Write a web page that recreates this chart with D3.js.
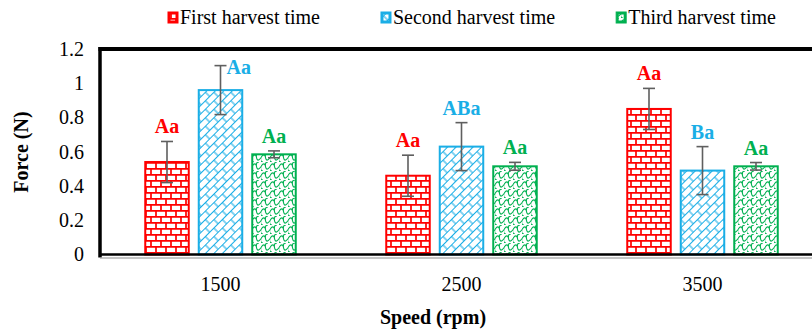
<!DOCTYPE html>
<html>
<head>
<meta charset="utf-8">
<script src="https://cdn.jsdelivr.net/npm/d3@7"></script>
<style>
  body { margin: 0; background: #fff; }
  svg { display: block; }
  svg text { font-family: "Liberation Serif", "Times New Roman", serif; }
</style>
</head>
<body>
<svg id="chart" width="812" height="329"></svg>
<script>
// data
var speeds = ["1500", "2500", "3500"];
var seriesNames = ["First harvest time", "Second harvest time", "Third harvest time"];
var firstHarvest = [0.54, 0.46, 0.85];
var secondHarvest = [0.96, 0.63, 0.49];
var thirdHarvest = [0.585, 0.515, 0.515];
var firstErr = [0.12, 0.12, 0.12];
var secondErr = [0.143, 0.14, 0.14];
var thirdErr = [0.02, 0.023, 0.022];
var firstLetters = ["Aa", "Aa", "Aa"];
var secondLetters = ["Aa", "ABa", "Ba"];
var thirdLetters = ["Aa", "Aa", "Aa"];
var yTicks = [0, 0.2, 0.4, 0.6, 0.8, 1, 1.2];

var colors = ["#ff0000", "#1aaee6", "#00b050"];
var patIds = ["pat-brick", "pat-diag", "pat-shingle"];
var serif = "Liberation Serif";

var values = [firstHarvest, secondHarvest, thirdHarvest];
var errs = [firstErr, secondErr, thirdErr];
var letters = [firstLetters, secondLetters, thirdLetters];

// flatten into bar records
var bars = [];
seriesNames.forEach(function(s, si) {
    speeds.forEach(function(sp, ci) {
        bars.push({ series: s, si: si, speed: sp, v: values[si][ci], e: errs[si][ci], label: letters[si][ci] });
    });
});

var svg = d3.select("#chart").attr("font-family", serif);
var plotLeft = 100, plotRight = 823, plotTop = 49, plotBottom = 254.5;

var x0 = d3.scaleBand().domain(speeds).range([plotLeft, plotRight]).padding(0);
var x1 = d3.scaleBand().domain(seriesNames).range([0, 150.5]).paddingInner(0.187).paddingOuter(0);
var groupOff = (x0.bandwidth() - 150.5) / 2;
var y = d3.scaleLinear().domain([0, 1.2]).range([plotBottom, plotTop]);

// patterns
var defs = svg.append("defs");

var brick = defs.append("pattern").attr("id", patIds[0])
    .attr("patternUnits", "userSpaceOnUse").attr("width", 10).attr("height", 12);
brick.append("rect").attr("width", 10).attr("height", 12).attr("fill", "#fff");
brick.append("path")
    .attr("d", "M0,0.8H10 M0,6.8H10 M1,0.8V6.8 M6,6.8V12.8")
    .attr("stroke", colors[0]).attr("stroke-width", 1.7).attr("fill", "none");

var diag = defs.append("pattern").attr("id", patIds[1])
    .attr("patternUnits", "userSpaceOnUse").attr("width", 12).attr("height", 12)
    .attr("patternTransform", "rotate(-45)");
diag.append("rect").attr("width", 12).attr("height", 12).attr("fill", "#fff");
diag.append("path")
    .attr("d", "M0,0.5H12 M0,6.5H12 M2,0.5V6.5 M8,6.5V12.5")
    .attr("stroke", colors[1]).attr("stroke-width", 1.1).attr("fill", "none");

var shingle = defs.append("pattern").attr("id", patIds[2])
    .attr("patternUnits", "userSpaceOnUse").attr("width", 9).attr("height", 9);
shingle.append("rect").attr("width", 9).attr("height", 9).attr("fill", "#fff");
shingle.append("path")
    .attr("d", "M0,4.5 C2,1 4,1 4.5,4.5 C5,8 7,8 9,4.5 M0,4.5 C-1,7 0,9 2,9 M4.5,4.5 C4,1 5,0 7,0")
    .attr("stroke", colors[2]).attr("stroke-width", 1.1).attr("fill", "none");

// plot frame: thick top and left border
svg.append("line").attr("x1", plotLeft - 1.5).attr("x2", 830).attr("y1", plotTop).attr("y2", plotTop)
    .attr("stroke", "#000").attr("stroke-width", 4);
svg.append("line").attr("x1", plotLeft).attr("x2", plotLeft).attr("y1", plotTop - 2).attr("y2", plotBottom + 3)
    .attr("stroke", "#000").attr("stroke-width", 3.5);

// y axis labels
var yAxis = d3.axisLeft(y).tickValues(yTicks).tickSize(0).tickPadding(16)
    .tickFormat(function(d) { return d3.format("~g")(d); });
var ya = svg.append("g").attr("transform", "translate(" + plotLeft + ",0)").call(yAxis)
    .attr("font-family", serif).attr("font-size", 20);
ya.select(".domain").remove();
ya.selectAll("text").attr("fill", "#000");

// bars
var gBars = svg.append("g");
gBars.selectAll("rect").data(bars).enter().append("rect")
    .attr("x", function(d) { return x0(d.speed) + groupOff + x1(d.series); })
    .attr("y", function(d) { return y(d.v); })
    .attr("width", x1.bandwidth())
    .attr("height", function(d) { return y(0) - y(d.v); })
    .attr("fill", function(d) { return "url(#" + patIds[d.si] + ")"; })
    .attr("stroke", function(d) { return colors[d.si]; })
    .attr("stroke-width", 2);

// x axis line (black, with thin grey line under it)
svg.append("line").attr("x1", plotLeft).attr("x2", 830).attr("y1", plotBottom).attr("y2", plotBottom)
    .attr("stroke", "#000").attr("stroke-width", 2.5);
svg.append("line").attr("x1", plotLeft).attr("x2", 830).attr("y1", plotBottom + 3.5).attr("y2", plotBottom + 3.5)
    .attr("stroke", "#8c8c8c").attr("stroke-width", 1);

// error bars
function cx(d) { return x0(d.speed) + groupOff + x1(d.series) + x1.bandwidth() / 2; }
var gErr = svg.append("g").attr("stroke", "#5f5f5f").attr("stroke-width", 1.6);
bars.forEach(function(d) {
    var c = cx(d), t = y(d.v + d.e), b = y(d.v - d.e);
    gErr.append("line").attr("x1", c).attr("x2", c).attr("y1", t).attr("y2", b);
    gErr.append("line").attr("x1", c - 6).attr("x2", c + 6).attr("y1", t).attr("y2", t);
    gErr.append("line").attr("x1", c - 6).attr("x2", c + 6).attr("y1", b).attr("y2", b);
});

// letter labels
svg.append("g").selectAll("text").data(bars).enter().append("text")
    .attr("font-family", serif).attr("font-size", 20).attr("font-weight", "bold")
    .attr("fill", function(d) { return colors[d.si]; })
    .each(function(d) {
        var t = y(d.v + d.e);
        var el = d3.select(this).text(d.label);
        if (t - 8 - 14 < plotTop + 4) {
            // no room above: put it beside the error cap
            el.attr("x", cx(d) + 6).attr("y", t + 8).attr("text-anchor", "start");
        } else {
            el.attr("x", cx(d)).attr("y", t - 8).attr("text-anchor", "middle");
        }
    });

// x tick labels
var xa = svg.append("g").attr("transform", "translate(0," + plotBottom + ")")
    .call(d3.axisBottom(x0).tickSize(0).tickPadding(22))
    .attr("font-family", serif).attr("font-size", 20);
xa.select(".domain").remove();
xa.selectAll("text").attr("fill", "#000");

// axis titles
svg.append("text").attr("x", 433).attr("y", 324).attr("text-anchor", "middle")
    .attr("font-family", serif).attr("font-size", 20).attr("font-weight", "bold").text("Speed (rpm)");
svg.append("text").attr("transform", "translate(28,152) rotate(-90)").attr("text-anchor", "middle")
    .attr("font-family", serif).attr("font-size", 20).attr("font-weight", "bold").text("Force (N)");

// legend
var lg = svg.append("g");
var lx = 168;
seriesNames.forEach(function(s, i) {
    lg.append("rect").attr("x", lx).attr("y", 12).attr("width", 10).attr("height", 11)
        .attr("fill", colors[i]).attr("stroke", colors[i]).attr("stroke-width", 1);
    lg.append("rect").attr("x", lx + 2.5).attr("y", 14.5).attr("width", 5).attr("height", 6)
        .attr("fill", "url(#" + patIds[i] + ")");
    var t = lg.append("text").attr("x", lx + 12).attr("y", 24)
        .attr("font-family", serif).attr("font-size", 20).text(s);
    lx += 12 + t.node().getComputedTextLength() + 61;
});
</script>
</body>
</html>
